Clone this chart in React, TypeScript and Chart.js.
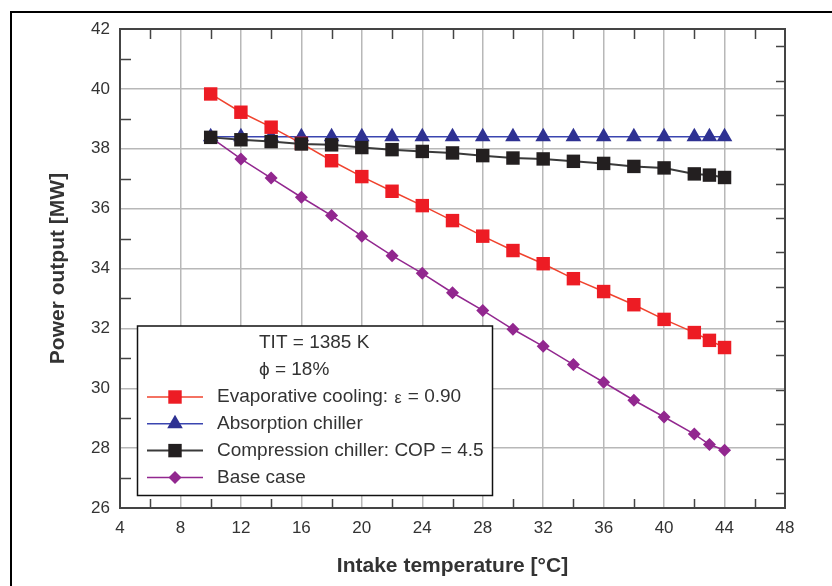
import React, { useEffect, useRef } from 'react';
import { Chart, registerables } from 'chart.js';

Chart.register(...registerables);

// ---- data ----
const intakeTemps = [10, 12, 14, 16, 18, 20, 22, 24, 26, 28, 30, 32, 34, 36, 38, 40, 42, 43, 44];
const evaporativeCooling = [39.83, 39.22, 38.72, 38.18, 37.6, 37.07, 36.58, 36.1, 35.6, 35.08, 34.6, 34.16, 33.66, 33.23, 32.79, 32.3, 31.86, 31.6, 31.36];
const absorptionChiller = [38.4, 38.4, 38.4, 38.4, 38.4, 38.4, 38.4, 38.4, 38.4, 38.4, 38.4, 38.4, 38.4, 38.4, 38.4, 38.4, 38.4, 38.4, 38.4];
const compressionChiller = [38.38, 38.3, 38.24, 38.16, 38.13, 38.04, 37.97, 37.91, 37.86, 37.77, 37.69, 37.66, 37.58, 37.51, 37.41, 37.36, 37.16, 37.12, 37.04];
const baseCase = [38.38, 37.66, 37.02, 36.38, 35.77, 35.08, 34.43, 33.84, 33.19, 32.6, 31.97, 31.4, 30.79, 30.2, 29.6, 29.04, 28.47, 28.12, 27.93];

const seriesLabels = ['Evaporative cooling: ε = 0.90', 'Absorption chiller', 'Compression chiller: COP = 4.5', 'Base case'];
const legendHeader = ['TIT = 1385 K', 'ϕ = 18%'];
const xTitle = 'Intake temperature [°C]';
const yTitle = 'Power output [MW]';

const FONT = '"Liberation Sans", Arial, Helvetica, sans-serif';
const TEXT = '#333333';

type Style = { line: string; fill: string; shape: string; radius: number; width: number; order: number };
const styles: Style[] = [
  { line: '#f0432e', fill: '#ed1c24', shape: 'rect', radius: 9.5, width: 1.5, order: 2 },
  { line: '#3a45b0', fill: '#2e3192', shape: 'triangle', radius: 9, width: 1.5, order: 3 },
  { line: '#3a3a3a', fill: '#231f20', shape: 'rect', radius: 9.5, width: 2, order: 0 },
  { line: '#92278f', fill: '#92278f', shape: 'rectRot', radius: 6.5, width: 1.5, order: 4 },
];
const seriesValues = [evaporativeCooling, absorptionChiller, compressionChiller, baseCase];

function drawMarker(ctx: CanvasRenderingContext2D, shape: string, r: number, x: number, y: number) {
  ctx.beginPath();
  if (shape === 'rect') {
    const s = Math.SQRT1_2 * r;
    ctx.rect(x - s, y - s, 2 * s, 2 * s);
  } else if (shape === 'triangle') {
    let rad = 0;
    ctx.moveTo(x + Math.sin(rad) * r, y - Math.cos(rad) * r);
    rad += (2 * Math.PI) / 3;
    ctx.lineTo(x + Math.sin(rad) * r, y - Math.cos(rad) * r);
    rad += (2 * Math.PI) / 3;
    ctx.lineTo(x + Math.sin(rad) * r, y - Math.cos(rad) * r);
    ctx.closePath();
  } else {
    ctx.moveTo(x - r, y);
    ctx.lineTo(x, y - r);
    ctx.lineTo(x + r, y);
    ctx.lineTo(x, y + r);
    ctx.closePath();
  }
  ctx.fill();
}

const outerFrame = {
  id: 'outerFrame',
  beforeDraw(chart: any) {
    const { ctx, width, height } = chart;
    ctx.save();
    ctx.fillStyle = '#fff';
    ctx.fillRect(0, 0, width, height);
    ctx.strokeStyle = '#000';
    ctx.lineWidth = 2;
    ctx.beginPath();
    ctx.moveTo(11, height + 2);
    ctx.lineTo(11, 12);
    ctx.lineTo(width + 2, 12);
    ctx.stroke();
    ctx.restore();
  },
};

const decor = {
  id: 'decor',
  afterDatasetsDraw(chart: any) {
    const { ctx, chartArea: a, scales } = chart;
    const xs = scales.x;
    const ys = scales.y;
    const y2 = scales.y2;
    ctx.save();
    // inner minor ticks
    ctx.strokeStyle = '#444';
    ctx.lineWidth = 1.5;
    ctx.beginPath();
    for (let v = xs.min + 2; v < xs.max; v += 4) {
      const px = Math.round(xs.getPixelForValue(v)) + 0.5;
      ctx.moveTo(px, a.top);
      ctx.lineTo(px, a.top + 10);
      ctx.moveTo(px, a.bottom);
      ctx.lineTo(px, a.bottom - 9);
    }
    for (let v = ys.min + 1; v < ys.max; v += 2) {
      const py = Math.round(ys.getPixelForValue(v)) + 0.5;
      ctx.moveTo(a.left, py);
      ctx.lineTo(a.left + 11, py);
    }
    y2.ticks.forEach((t: any) => {
      const py = Math.round(y2.getPixelForValue(t.value)) + 0.5;
      if (py > a.top + 3 && py < a.bottom - 3) {
        ctx.moveTo(a.right, py);
        ctx.lineTo(a.right - 9, py);
      }
    });
    ctx.stroke();
    // frame
    ctx.lineWidth = 2;
    ctx.strokeStyle = '#444';
    ctx.strokeRect(a.left, a.top, a.right - a.left, a.bottom - a.top);

    // legend box
    const bx = 137.5, by = 326, bw = 355, bh = 169.5;
    ctx.fillStyle = '#fff';
    ctx.fillRect(bx, by, bw, bh);
    ctx.strokeStyle = '#111';
    ctx.lineWidth = 1.5;
    ctx.strokeRect(bx, by, bw, bh);
    ctx.fillStyle = TEXT;
    ctx.font = `19px ${FONT}`;
    ctx.textAlign = 'left';
    ctx.textBaseline = 'middle';
    legendHeader.forEach((t, i) => ctx.fillText(t, 259, 343 + i * 27));
    seriesLabels.forEach((label, i) => {
      const st = styles[i];
      const ry = 397 + i * 26.8;
      ctx.strokeStyle = st.line;
      ctx.lineWidth = st.width;
      ctx.beginPath();
      ctx.moveTo(147, ry);
      ctx.lineTo(203, ry);
      ctx.stroke();
      ctx.fillStyle = st.fill;
      drawMarker(ctx, st.shape, st.radius, 175, ry);
      ctx.fillStyle = TEXT;
      const idx = label.indexOf('ε');
      if (idx >= 0) {
        const pre = label.slice(0, idx);
        const post = label.slice(idx + 1);
        ctx.font = `19px ${FONT}`;
        ctx.fillText(pre, 217, ry);
        let xx = 217 + ctx.measureText(pre).width + 1;
        ctx.font = `16px ${FONT}`;
        ctx.fillText('ε', xx, ry + 2);
        xx += ctx.measureText('ε').width + 1;
        ctx.font = `19px ${FONT}`;
        ctx.fillText(post, xx, ry);
      } else {
        ctx.font = `19px ${FONT}`;
        ctx.fillText(label, 217, ry);
      }
    });

    // axis titles
    ctx.fillStyle = TEXT;
    ctx.font = `bold 21px ${FONT}`;
    ctx.textAlign = 'center';
    ctx.textBaseline = 'middle';
    ctx.fillText(xTitle, (a.left + a.right) / 2, 566);
    ctx.translate(58, (a.top + a.bottom) / 2);
    ctx.rotate(-Math.PI / 2);
    ctx.fillText(yTitle, 0, 0);
    ctx.restore();
  },
};

export default function App() {
  const ref = useRef<HTMLCanvasElement>(null);
  useEffect(() => {
    document.body.style.margin = '0';
    document.body.style.overflow = 'hidden';
    const datasets = seriesLabels.map((label, i) => ({
      label,
      data: intakeTemps.map((x, j) => ({ x, y: seriesValues[i][j] })),
      borderColor: styles[i].line,
      borderWidth: styles[i].width,
      pointStyle: styles[i].shape,
      pointRadius: styles[i].radius,
      pointBackgroundColor: styles[i].fill,
      pointBorderColor: styles[i].fill,
      pointBorderWidth: 0,
      order: styles[i].order,
      tension: 0,
      fill: false,
    }));
    const tickFont = { family: FONT, size: 17 };
    const chart = new Chart(ref.current as HTMLCanvasElement, {
      type: 'line',
      data: { datasets },
      options: {
        animation: false,
        responsive: false,
        layout: { padding: { top: 29, right: 47, left: 0, bottom: 0 } },
        plugins: { legend: { display: false }, tooltip: { enabled: false } },
        scales: {
          x: {
            type: 'linear',
            min: 4,
            max: 48,
            ticks: { stepSize: 4, color: TEXT, font: tickFont, padding: 10, maxRotation: 0 },
            grid: { color: '#b8b8b8', lineWidth: 1.5, drawTicks: false },
            border: { display: false },
            afterFit: (s: any) => { s.height = 78; },
          },
          y: {
            type: 'linear',
            min: 26,
            max: 42,
            ticks: { stepSize: 2, color: TEXT, font: tickFont, padding: 10 },
            grid: { color: '#b8b8b8', lineWidth: 1.5, drawTicks: false },
            border: { display: false },
            afterFit: (s: any) => { s.width = 120; },
          },
          y2: {
            type: 'linear',
            position: 'right',
            min: 0.56,
            max: 14.5,
            ticks: { stepSize: 1, display: false },
            grid: { display: false, drawTicks: false },
            border: { display: false },
            afterFit: (s: any) => { s.width = 0; },
          },
        },
      },
      plugins: [outerFrame, decor],
    } as any);
    return () => chart.destroy();
  }, []);
  return (
    <div style={{ position: 'fixed', left: 0, top: 0, width: 832, height: 586, overflow: 'hidden', background: '#fff' }}>
      <canvas ref={ref} width={832} height={586} style={{ display: 'block', width: 832, height: 586 }} />
    </div>
  );
}
